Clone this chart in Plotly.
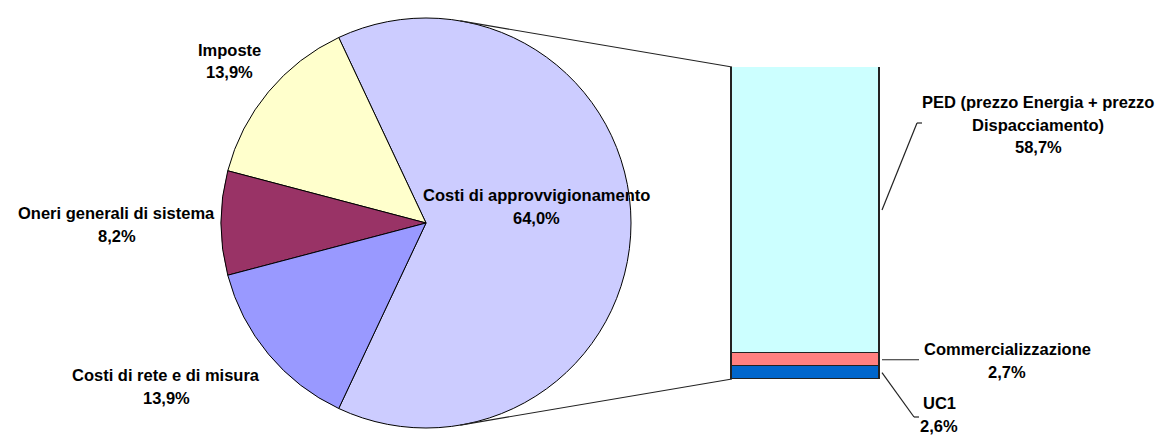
import math
import plotly.graph_objects as go

W, H = 1160, 436

# ---- data ----
pie_labels = ["Costi di approvvigionamento", "Imposte", "Oneri generali di sistema", "Costi di rete e di misura"]
pie_values = [64.0, 13.9, 8.2, 13.9]
pie_colors = ["#CCCCFF", "#FFFFCC", "#993366", "#9999FF"]

bar_labels = ["UC1", "Commercializzazione", "PED (prezzo Energia + prezzo Dispacciamento)"]
bar_values = [2.6, 2.7, 58.7]
bar_colors = ["#0066CC", "#FF8080", "#CCFFFF"]

pie_label_lines = [["Costi di approvvigionamento"], ["Imposte"], ["Oneri generali di sistema"], ["Costi di rete e di misura"]]
bar_label_lines = [["UC1"], ["Commercializzazione"], ["PED (prezzo Energia + prezzo", "Dispacciamento)"]]

# ---- layout geometry (pixels) ----
PIE_CX, PIE_CY, PIE_R = 426, 223, 205
BAR_X0, BAR_X1, BAR_TOP, BAR_BOT = 732, 880, 67, 379
LINE_STEP = 22.5
pie_label_pos = [(536, 195), (229, 50), (117, 213), (166, 375)]
bar_label_pos = [(939, 403), (1007, 349), (1038, 102)]
bar_leader_ends = [[(914, 417), (919, 417)], [(919, None)], [(917, 123), (922, 123)]]

FONT = dict(family="Liberation Sans, Arial, sans-serif", size=16.5, color="black", weight="bold")
LINE_COL = "#222222"


def px(x):
    return x / W


def py(y):
    return 1 - y / H


def fmt(v):
    return f"{v:.1f}".replace(".", ",") + "%"


total = sum(pie_values)
# plotly (counterclockwise): first slice spans [rotation, rotation + share] clockwise
rotation = 90 - pie_values[0] / total * 180  # centre first slice at 3 o'clock

fig = go.Figure()
fig.add_trace(go.Pie(
    labels=pie_labels, values=pie_values, sort=False, direction="counterclockwise",
    rotation=rotation, textinfo="none", hoverinfo="label+percent",
    marker=dict(colors=pie_colors, line=dict(color="black", width=1)),
    domain=dict(x=[px(PIE_CX - PIE_R), px(PIE_CX + PIE_R)],
                y=[py(PIE_CY + PIE_R), py(PIE_CY - PIE_R)]),
    showlegend=False,
))

for lab, val, col in zip(bar_labels, bar_values, bar_colors):
    fig.add_trace(go.Bar(
        x=[0], y=[val], width=1, name=lab, showlegend=False,
        marker=dict(color=col, line=dict(color=LINE_COL, width=1.5)),
        xaxis="x", yaxis="y", cliponaxis=False,
    ))

bar_total = sum(bar_values)
PAD = 0.05  # axis padding (in bar-width units) so the outline is not clipped
pad_px = PAD * (BAR_X1 - BAR_X0)

fig.update_layout(
    width=W, height=H, margin=dict(l=0, r=0, t=0, b=0),
    paper_bgcolor="white", plot_bgcolor="rgba(0,0,0,0)",
    barmode="stack", bargap=0,
    xaxis=dict(domain=[px(BAR_X0 - pad_px), px(BAR_X1 + pad_px)], range=[-0.5 - PAD, 0.5 + PAD],
               visible=False, fixedrange=True),
    yaxis=dict(domain=[py(BAR_BOT), py(BAR_TOP)], range=[0, bar_total], visible=False, fixedrange=True),
)

shapes = []


def seg(p0, p1):
    shapes.append(dict(type="line", xref="paper", yref="paper",
                       x0=px(p0[0]), y0=py(p0[1]), x1=px(p1[0]), y1=py(p1[1]),
                       line=dict(color=LINE_COL, width=1.2)))


# connectors pie -> bar (tangent lines)
for corner, sgn in (((BAR_X0, BAR_TOP), -1), ((BAR_X0, BAR_BOT), 1)):
    dx, dy = corner[0] - PIE_CX, corner[1] - PIE_CY
    d = math.hypot(dx, dy)
    base = math.atan2(dy, dx)
    ang = base + sgn * math.acos(PIE_R / d)
    tp = (PIE_CX + PIE_R * math.cos(ang), PIE_CY + PIE_R * math.sin(ang))
    seg(tp, corner)

# leader lines from bar segments
scale = (BAR_BOT - BAR_TOP) / bar_total
cum = 0
for val, ends in zip(bar_values, bar_leader_ends):
    mid_y = BAR_BOT - (cum + val / 2) * scale
    cum += val
    start = (BAR_X1 + 2, mid_y)
    pts = [start]
    for e in ends:
        pts.append((e[0], mid_y if e[1] is None else e[1]))
    for a, b in zip(pts[:-1], pts[1:]):
        seg(a, b)

annotations = []


def add_label(lines, val, pos):
    x, y = pos
    for i, t in enumerate(lines + [fmt(val)]):
        annotations.append(dict(x=px(x), y=py(y + i * LINE_STEP), xref="paper", yref="paper",
                                text=t, showarrow=False, xanchor="center", yanchor="middle",
                                font=FONT))


for lines, val, pos in zip(pie_label_lines, pie_values, pie_label_pos):
    add_label(lines, val, pos)
for lines, val, pos in zip(bar_label_lines, bar_values, bar_label_pos):
    add_label(lines, val, pos)

fig.update_layout(shapes=shapes, annotations=annotations)
fig.write_html("out.html", config={"displayModeBar": False},
               post_script="document.body.style.margin='0px';")
